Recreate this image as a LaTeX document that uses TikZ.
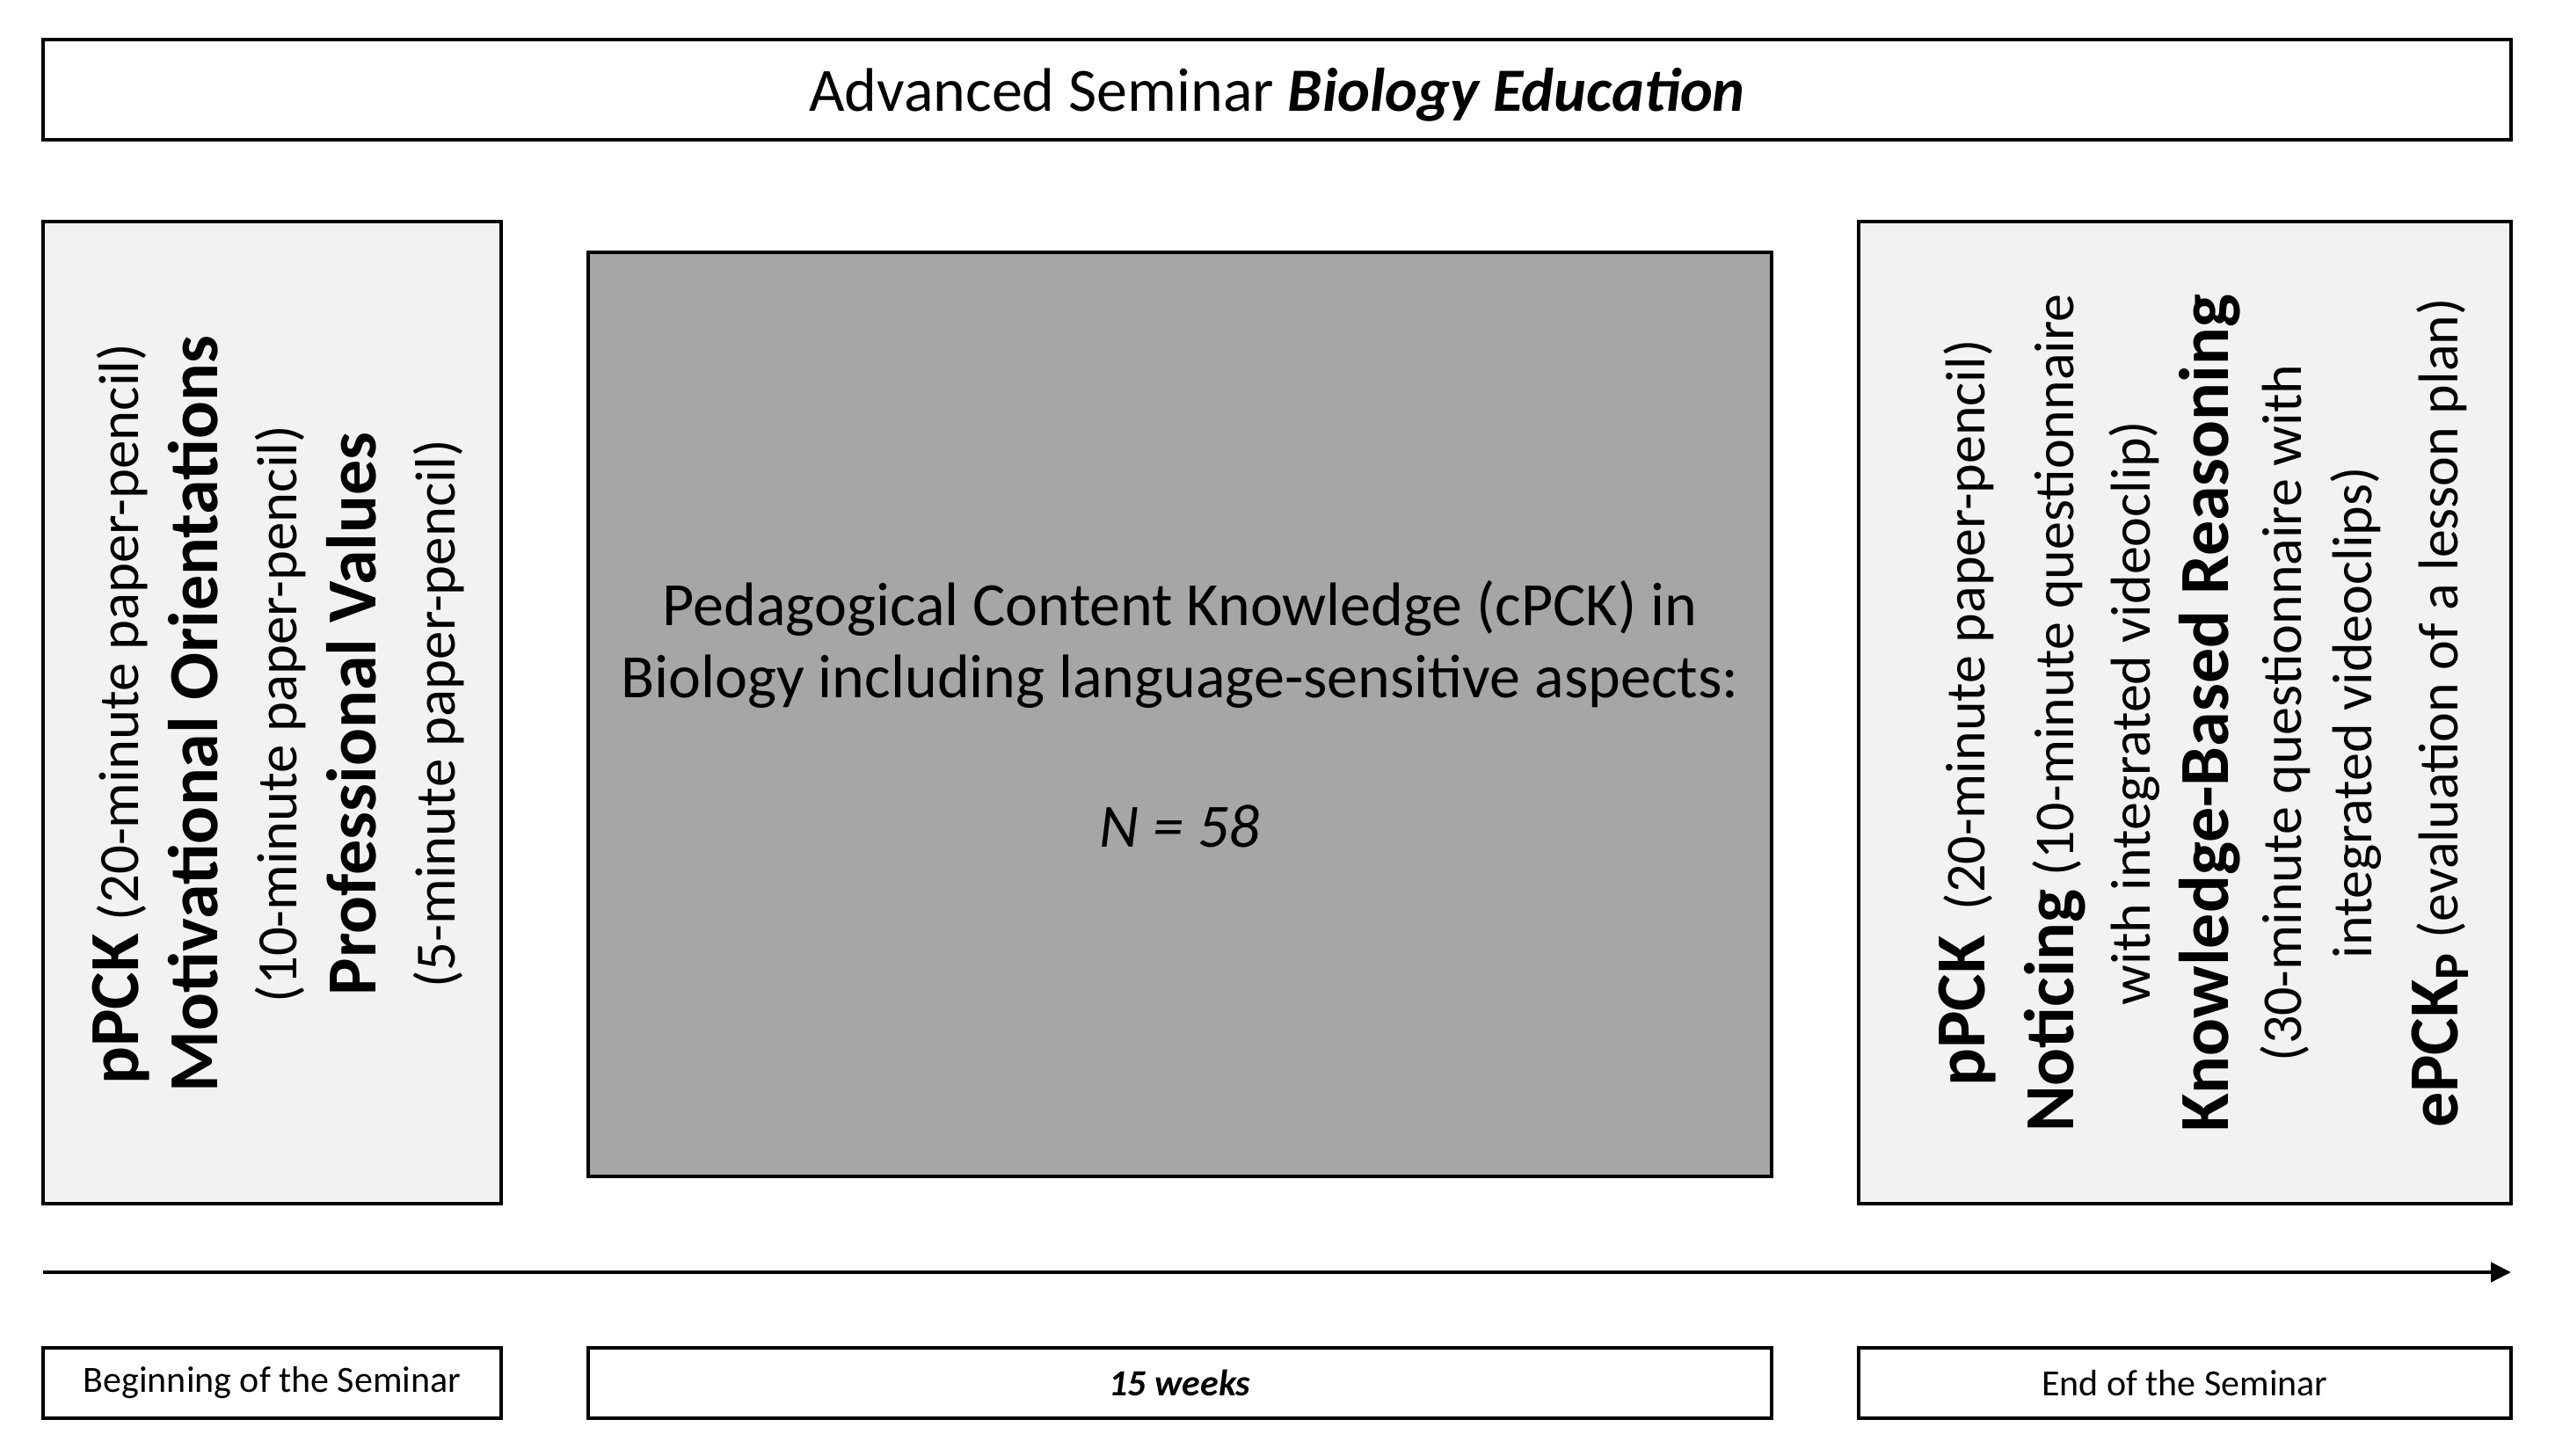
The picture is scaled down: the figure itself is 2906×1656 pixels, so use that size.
\documentclass[tikz,border=0pt]{standalone}
\usepackage{fontspec}
\setmainfont{Carlito}
\usetikzlibrary{arrows.meta}
\definecolor{lightbox}{HTML}{F2F2F2}
\definecolor{midbox}{HTML}{A6A6A6}
\newcommand\bigbold{\fontsize{20}{22.5}\selectfont\bfseries}
\begin{document}
\begin{tikzpicture}[x=0.25pt,y=-0.25pt,
  box/.style={draw=black,line width=0.95pt,inner sep=0pt,outer sep=0pt},
  sidebox/.style={box,fill=lightbox,minimum height=279.25pt},
  bottombox/.style={box,fill=white,minimum height=20pt,font=\fontsize{10.5}{12.5}\selectfont},
  vtext/.style={rotate=90,align=center,inner sep=0pt}]
\useasboundingbox (0,0) rectangle (2906,1656);

% title
\node[box,minimum width=701.75pt,minimum height=28.5pt,text depth=0pt,font=\fontsize{17.5}{21}\selectfont]
  (title) at (1452.5,102) {Advanced Seminar \textbf{\textit{Biology Education}}};

% main boxes
\node[sidebox,minimum width=130.25pt] (left) at (309.5,810.5) {};
\node[box,fill=midbox,minimum width=336.5pt,minimum height=262.75pt,align=center,
  font=\fontsize{17.5}{20.5}\selectfont] (mid) at (1342,812.5)
  {Pedagogical Content Knowledge (cPCK) in\\ Biology including language-sensitive aspects:\\[22pt] \textit{N = 58}};
\node[sidebox,minimum width=185.5pt] (right) at (2485,810.5) {};

% left text
\node[vtext,font=\fontsize{16.2}{22.5}\selectfont] (lefttext) at (316,812)
  {{\bigbold pPCK} (20-minute paper-pencil)\\
   {\bigbold Motivational Orientations}\\
   (10-minute paper-pencil)\\
   {\bigbold Professional Values}\\
   (5-minute paper-pencil)};

% right text
\node[vtext,font=\fontsize{16}{20}\selectfont] (righttext) at (2506,811)
  {{\bigbold pPCK}~ (20-minute paper-pencil)\\[5.25pt]
   {\bigbold Noticing} (10-minute questionnaire\\[1.75pt]
   with integrated videoclip)\\[2.25pt]
   {\bigbold Knowledge-Based Reasoning}\\[0.75pt]
   (30-minute questionnaire with\\
   integrated videoclips)\\[4.5pt]
   {\bigbold ePCK\textsubscript{\fontsize{14}{16}\selectfont P}} (evaluation of a lesson plan)};

% time arrow
\coordinate (tstart) at (49,1447);
\coordinate (tend) at (2856,1447);
\draw[line width=1.15pt,-{Triangle[length=5.75pt,width=5.5pt]}] (tstart) -- (tend);

% bottom labels
\node[bottombox,minimum width=130.25pt] (begin) at (309.5,1573) {Beginning of the Seminar};
\node[bottombox,minimum width=336.5pt] (weeks) at (1342,1573) {\textbf{\textit{15 weeks}}};
\node[bottombox,minimum width=185.5pt] (end) at (2485,1573) {End of the Seminar};
\end{tikzpicture}
\end{document}
